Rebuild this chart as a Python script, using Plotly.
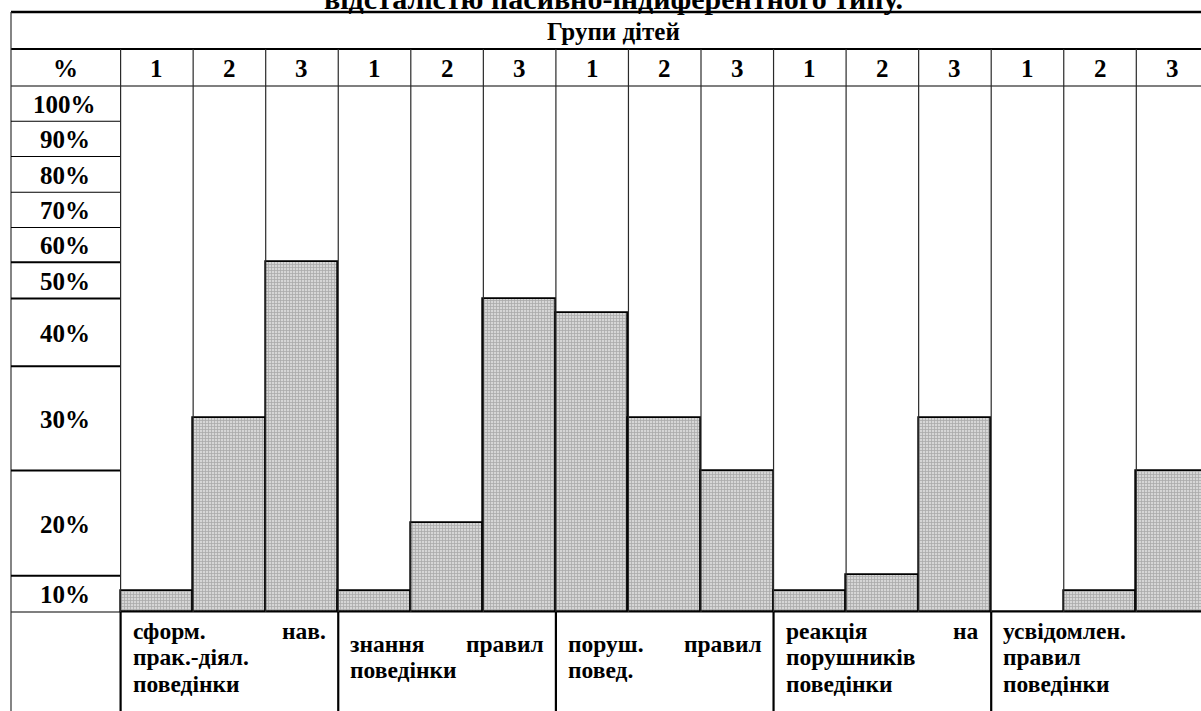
import plotly.graph_objects as go

# ---------------- data ----------------
title_text = "відсталістю пасивно-індиферентного типу."
header_text = "Групи дітей"
corner_label = "%"
group_numbers = ["1", "2", "3"]

# behaviour indicators (bottom row), lines of words (justified like the source)
categories = [
    [["сформ.", "нав."], ["прак.-діял."], ["поведінки"]],
    [["знання", "правил"], ["поведінки"]],
    [["поруш.", "правил"], ["повед."]],
    [["реакція", "на"], ["порушників"], ["поведінки"]],
    [["усвідомлен."], ["правил"], ["поведінки"]],
]

# left-hand scale column (rows are of unequal height in the source)
row_labels = ["100%", "90%", "80%", "70%", "60%", "50%", "40%", "30%", "20%", "10%"]
# row edges, in units of the column height (0 = bottom, 100 = top)
row_edges = [100, 93.3, 86.6, 79.8, 73.1, 66.5, 59.6, 46.7, 26.9, 6.9, 0]

# bar heights (same units), groups 1-3 for each indicator
bar_group1 = [4.0, 36.9, 66.5]
bar_group2 = [4.0, 17.0, 59.6]
bar_group3 = [56.9, 36.9, 26.9]
bar_group4 = [4.0, 7.0, 36.9]
bar_group5 = [0.0, 4.0, 26.9]
bars = [bar_group1, bar_group2, bar_group3, bar_group4, bar_group5]

# ---------------- layout helpers ----------------
W, H = 1201, 711
COLW = 72.55
X0PX = 120.6            # left edge of first data column (px)
LEFTPX = 11             # outer left border
TOP_PX = 12             # table top border
HDR1_PX = 49            # bottom of "Групи дітей" row
HDR2_PX = 86            # bottom of header number row
DATA_BOT_PX = 612       # bottom of data area
x_min = -0.5 - X0PX / COLW
x_max = x_min + W / COLW

def px_x(px):
    return px / W

def px_y(py):
    return 1 - py / H

FONT = "Liberation Serif"
FS_LAB = 23.5
FS_HDR = 25

n_cols = sum(len(b) for b in bars)
xs = list(range(n_cols))
ys = [v for grp in bars for v in grp]

fig = go.Figure()
fig.add_trace(go.Bar(
    x=xs, y=ys, width=1.0,
    marker=dict(
        color="#bcbcbc",
        line=dict(color="#000000", width=1.7),
        pattern=dict(shape="+", size=3, solidity=0.45,
                     fgcolor="#7e7e7e", bgcolor="#d6d6d6"),
    ),
    hoverinfo="skip", showlegend=False,
))

shapes = []
def hline(x0, x1, y, w=1, color="#000"):
    shapes.append(dict(type="line", xref="paper", yref="paper",
                       x0=px_x(x0), x1=px_x(x1), y0=px_y(y), y1=px_y(y),
                       line=dict(color=color, width=w), layer="above"))

def vline_data(x, y0, y1, w=1, color="#000"):
    shapes.append(dict(type="line", xref="x", yref="paper",
                       x0=x, x1=x, y0=px_y(y0), y1=px_y(y1),
                       line=dict(color=color, width=w), layer="above"))

def vline_px(x, y0, y1, w=1, color="#000"):
    shapes.append(dict(type="line", xref="paper", yref="paper",
                       x0=px_x(x), x1=px_x(x), y0=px_y(y0), y1=px_y(y1),
                       line=dict(color=color, width=w), layer="above"))

# outer / header lines
hline(LEFTPX, W, TOP_PX, 2.4)
hline(LEFTPX, W, HDR1_PX, 2.2)
hline(LEFTPX, W, HDR2_PX, 1.2)
hline(LEFTPX, W, DATA_BOT_PX, 1.2)
vline_px(LEFTPX, TOP_PX, H, 1.2, "#333")

# left scale column row lines
data_h = DATA_BOT_PX - HDR2_PX
for e in row_edges[1:-1]:
    py = DATA_BOT_PX - e / 100 * data_h
    hline(LEFTPX, X0PX, py, 2.0 if e < 70 else 1.2)

# column lines
for k in range(n_cols + 1):
    xb = k - 0.5
    vline_data(xb, HDR1_PX, DATA_BOT_PX, 1.2, "#2a2a2a")
# group boundaries extend into bottom label row
start = 0
for grp in bars:
    vline_data(start - 0.5, DATA_BOT_PX, H, 2.2, "#000")
    start += len(grp)
vline_data(start - 0.5, DATA_BOT_PX, H, 2.2, "#000")

ann = []
def text(xp, yp, s, xanchor="center", size=FS_LAB, xref="paper"):
    ann.append(dict(x=xp, y=px_y(yp), xref=xref, yref="paper", text="<b>%s</b>" % s,
                    showarrow=False, xanchor=xanchor, yanchor="middle",
                    font=dict(family=FONT, size=size, color="#000")))

# title (cut off at the top edge, as in the source) and header
text(px_x(613), -1, title_text, size=30)
text(px_x(613), (TOP_PX + HDR1_PX) / 2 + 1, header_text, size=FS_HDR)
text(px_x((LEFTPX + X0PX) / 2), (HDR1_PX + HDR2_PX) / 2 + 1, corner_label, size=FS_HDR)
for k in range(n_cols):
    text(k, (HDR1_PX + HDR2_PX) / 2 + 1, group_numbers[k % 3], xref="x", size=FS_HDR)

# row labels
for i, lab in enumerate(row_labels):
    top = DATA_BOT_PX - row_edges[i] / 100 * data_h
    bot = DATA_BOT_PX - row_edges[i + 1] / 100 * data_h
    text(px_x((LEFTPX + X0PX) / 2 - 1), (top + bot) / 2 + 1, lab, size=FS_HDR)

# bottom labels
PAD = 10 / COLW
LINE = 26.5
start = 0
for gi, lines in enumerate(categories):
    left = start - 0.5 + PAD
    right = start + len(bars[gi]) - 0.5 - PAD
    ymid = 657
    y_first = ymid - (len(lines) - 1) * LINE / 2
    for li, words in enumerate(lines):
        yy = y_first + li * LINE
        text(left, yy, words[0], xanchor="left", xref="x")
        if len(words) > 1:
            text(right, yy, words[-1], xanchor="right", xref="x")
    start += len(bars[gi])

fig.update_layout(
    width=W, height=H,
    margin=dict(l=0, r=0, t=0, b=0),
    paper_bgcolor="#ffffff", plot_bgcolor="#ffffff",
    xaxis=dict(range=[x_min, x_max], domain=[0, 1], visible=False, fixedrange=True),
    yaxis=dict(range=[0, 100],
               domain=[px_y(DATA_BOT_PX), px_y(HDR2_PX)],
               visible=False, fixedrange=True),
    shapes=shapes, annotations=ann, bargap=0,
)

fig.write_html("out.html", config={"displayModeBar": False},
               post_script="document.body.style.margin='0';document.body.style.overflow='hidden';")
